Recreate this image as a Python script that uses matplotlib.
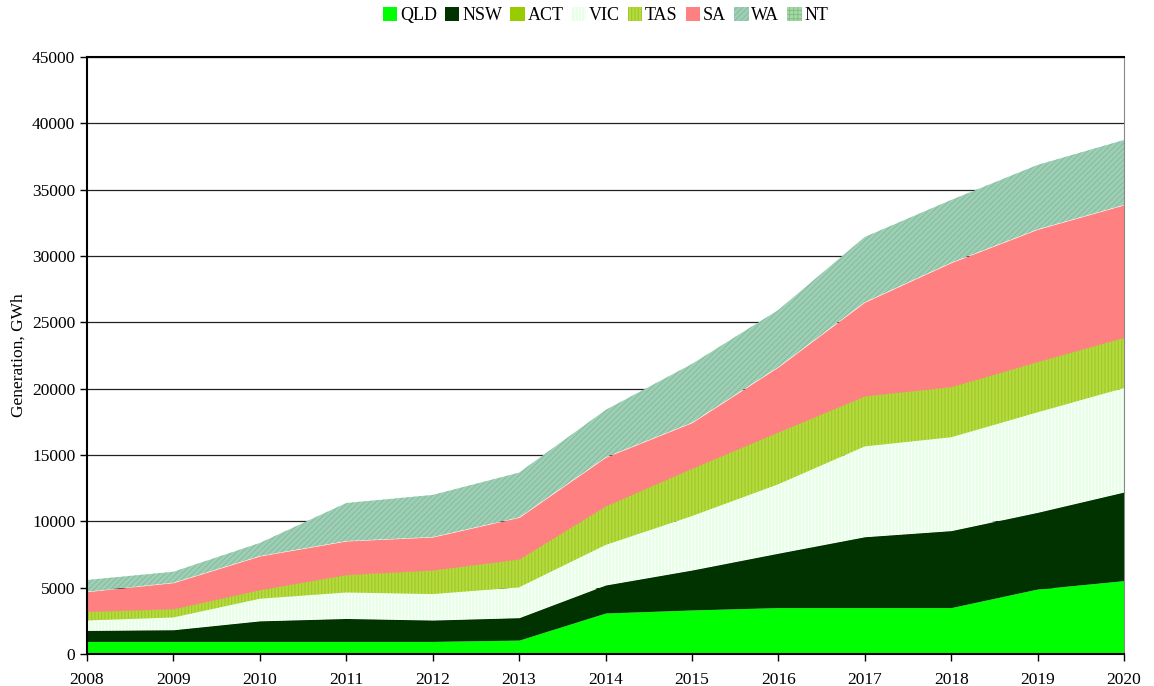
import numpy as np
import matplotlib
matplotlib.use("Agg")
import matplotlib.pyplot as plt

plt.rcParams['font.family'] = ['Liberation Serif', 'DejaVu Serif']
plt.rcParams['hatch.linewidth'] = 0.7

years = np.arange(2008, 2021)

# generation by state, GWh
qld = [950, 950, 950, 950, 950, 1050, 3090, 3320, 3500, 3500, 3500, 4900, 5530]
nsw = [830, 880, 1550, 1730, 1610, 1690, 2110, 3010, 4100, 5340, 5800, 5780, 6680]
act = [0, 0, 0, 0, 0, 0, 0, 0, 0, 0, 0, 0, 0]
vic = [750, 930, 1670, 1960, 1960, 2290, 3020, 4070, 5200, 6810, 7040, 7540, 7840]
tas = [680, 650, 680, 1340, 1810, 2130, 2940, 3600, 3940, 3800, 3810, 3820, 3820]
sa  = [1490, 1970, 2540, 2540, 2490, 3140, 3670, 3440, 4900, 7070, 9350, 9970, 9980]
wa  = [880, 820, 980, 2860, 3170, 3370, 3560, 4420, 4290, 4910, 4720, 4850, 4890]
nt  = [0, 0, 0, 0, 0, 0, 0, 0, 0, 0, 0, 0, 0]

labels = ["QLD", "NSW", "ACT", "VIC", "TAS", "SA", "WA", "NT"]
series = [qld, nsw, act, vic, tas, sa, wa, nt]

# face colour, hatch, hatch colour
styles = [
    ("#00ff00", None, None),
    ("#003300", None, None),
    ("#99cc00", None, None),
    ("#e6ffe6", "|||||", "#ffffff"),
    ("#b4da3c", "|||||", "#9cc62a"),
    ("#ff8080", None, None),
    ("#9dcfb4", "//////", "#86bb9f"),
    ("#a8d8a8", "++++", "#80c080"),
]

fig = plt.figure(figsize=(11.54, 6.86), dpi=100)
ax = fig.add_axes([0.0754, 0.0466, 0.8986, 0.8704])

polys = ax.stackplot(years, *series, labels=labels, zorder=2)
for p, (fc, h, hc) in zip(polys, styles):
    p.set_facecolor(fc)
    p.set_linewidth(0)
    if h:
        p.set_hatch(h)
        p.set_edgecolor(hc)
    else:
        p.set_edgecolor(fc)

ax.set_xlim(2008, 2020)
ax.set_ylim(0, 45000)
ax.set_xticks(years)
ax.set_yticks(np.arange(0, 45001, 5000))
ax.yaxis.grid(True, color="#222222", linewidth=0.9, zorder=1)
ax.set_axisbelow(True)

for s in ["left", "bottom", "top"]:
    ax.spines[s].set_linewidth(1.5)
    ax.spines[s].set_color("black")
ax.spines["right"].set_color("#888888")
ax.tick_params(axis="both", direction="out", length=5, width=1, labelsize=12.5)
ax.tick_params(axis="x", pad=8)
ax.set_ylabel("Generation, GWh", fontsize=12.5)

ax.legend(loc="center", bbox_to_anchor=(0.5, 1.069), ncol=8, frameon=False,
          fontsize=13, handlelength=0.8, handleheight=0.8, handletextpad=0.15,
          columnspacing=0.45)

plt.savefig("out.png", dpi=100)
